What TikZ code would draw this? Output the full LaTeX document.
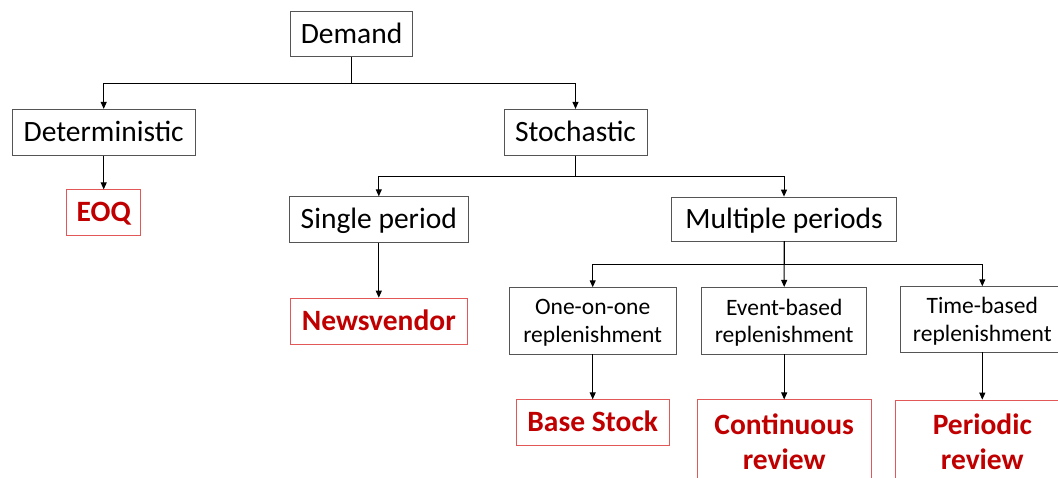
\documentclass[tikz,border=0pt]{standalone}
\usepackage{fontspec}
\setmainfont{Carlito}
\usepackage{tikz}
\usetikzlibrary{arrows.meta, positioning}
\definecolor{framegray}{RGB}{85,85,85}
\definecolor{modelred}{RGB}{226,88,88}
\definecolor{modeltext}{RGB}{192,0,0}
\newcommand{\bigtxt}{\fontsize{29.5}{35}\selectfont}
\newcommand{\smalltxt}{\fontsize{23.5}{27.3}\selectfont}

\begin{document}
\begin{tikzpicture}[x=1pt, y=-1pt,
  box/.style={rectangle, draw=framegray, line width=0.8pt, inner sep=0pt,
              align=center, font=\bigtxt, text height=22.1pt, text depth=3.5pt},
  subbox/.style={rectangle, draw=framegray, line width=0.8pt, inner sep=0pt,
              align=center, font=\smalltxt, text depth=0pt},
  model/.style={rectangle, draw=modelred, line width=0.8pt, inner sep=0pt,
              align=center, text=modeltext, font=\bigtxt\bfseries,
              text height=22.1pt, text depth=3.5pt},
  model2/.style={rectangle, draw=modelred, line width=0.8pt, inner sep=0pt,
              align=center, text=modeltext, font=\bigtxt\bfseries, text depth=0pt},
  arrow/.style={-{Triangle[length=7pt, width=6pt]}, line width=1pt}]

\useasboundingbox (0,0) rectangle (1058,477);
\clip (0,0) rectangle (1058,477);

% demand types
\node[box, minimum width=122.5pt, minimum height=45.7pt] (demand) at (351.6,33.9) {Demand};
\node[box, minimum width=182.7pt, minimum height=46pt]   (determ) at (103.7,132.3) {Deterministic};
\node[box, minimum width=143pt,   minimum height=46pt]   (stoch)  at (575.5,132.3) {Stochastic};

% stochastic branches
\node[box, minimum width=179pt, minimum height=45.6pt] (single) at (378.8,219.5) {Single period};
\node[box, minimum width=225pt, minimum height=44pt]   (multi)  at (784,219)     {Multiple periods};

% replenishment policies
\node[subbox, minimum width=166.7pt, minimum height=66.3pt] (oneone) at (592.7,320.8) {One-on-one\\replenishment};
\node[subbox, minimum width=165pt,   minimum height=66.7pt] (event)  at (784.2,320.7) {Event-based\\replenishment};
\node[subbox, minimum width=163pt,   minimum height=65.3pt] (timeb)  at (982.3,319.3) {Time-based\\replenishment};

% inventory models
\node[model, minimum width=74pt,    minimum height=45.7pt, below=33.7pt of determ] (eoq)  {EOQ};
\node[model, minimum width=176.7pt, minimum height=46.7pt, below=55pt of single]   (news) {Newsvendor};
\node[model, minimum width=153pt,   minimum height=45.7pt, below=45pt of oneone]   (base) {Base Stock};
\node[model2, minimum width=174pt,  minimum height=82.6pt, below=45pt of event]    (cont) {Continuous\\review};
\node[model2, minimum width=174pt,  minimum height=82.6pt, below=47.3pt of timeb]  (peri) {Periodic\\review};

\draw[arrow] (demand.south) -- ++(0,26.6) -| (determ.north);
\draw[arrow] (demand.south) -- ++(0,26.6) -| (stoch.north);
\draw[arrow] (stoch.south) -- ++(0,20.7) -| (single.north);
\draw[arrow] (stoch.south) -- ++(0,20.7) -| (multi.north);
\draw[arrow] (multi.south) -- ++(0,23) -| (oneone.north);
\draw[arrow] (multi.south) -- (event.north);
\draw[arrow] (multi.south) -- ++(0,23) -| (timeb.north);

\draw[arrow] (determ) -- (eoq);
\draw[arrow] (single) -- (news);
\draw[arrow] (oneone) -- (base);
\draw[arrow] (event)  -- (cont);
\draw[arrow] (timeb)  -- (peri);
\end{tikzpicture}
\end{document}
